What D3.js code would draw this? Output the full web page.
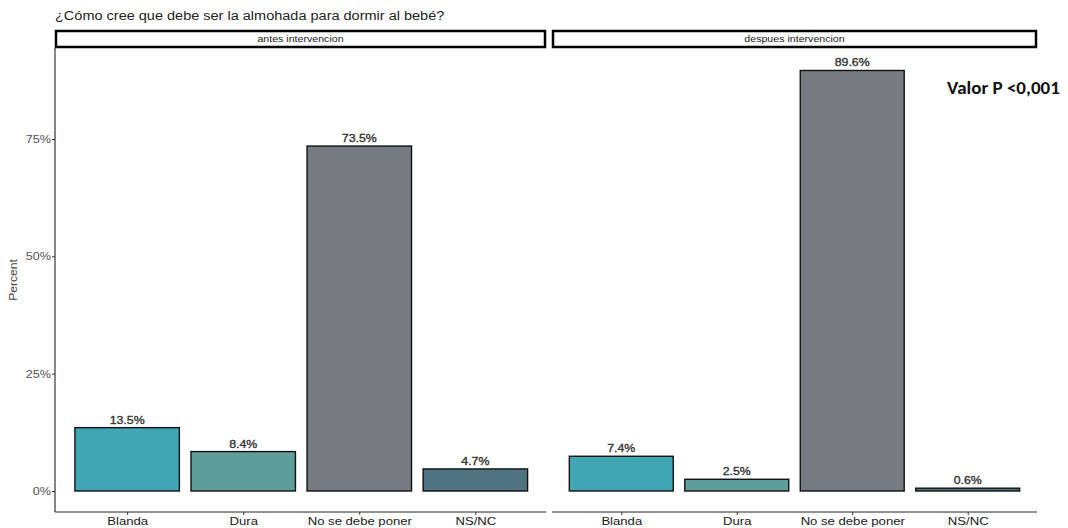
<!DOCTYPE html>
<html>
<head>
<meta charset="utf-8">
<script src="https://cdn.jsdelivr.net/npm/d3@7"></script>
<style>
  html, body { margin: 0; padding: 0; background: #ffffff; }
  svg { display: block; }
</style>
</head>
<body>
<svg id="chart" width="1068" height="528"></svg>
<script>
// Responses to: ¿Cómo cree que debe ser la almohada para dormir al bebé?
const categories = ["Blanda", "Dura", "No se debe poner", "NS/NC"];
const panels = ["antes intervencion", "despues intervencion"];
const valuesAntes = [13.5, 8.4, 73.5, 4.7];
const valuesDespues = [7.4, 2.5, 89.6, 0.6];
const yTicks = [0, 25, 50, 75];
const barColors = ["#41a6b4", "#5e9e9a", "#757b81", "#4f7480"];

const seriesByPanel = [valuesAntes, valuesDespues];

const svg = d3.select("#chart");
const font = "'Liberation Sans', Arial, sans-serif";

// Widen glyphs horizontally by a factor (text keeps its anchor)
function widen(sel, factor) {
  sel.each(function () {
    const w = this.getComputedTextLength();
    d3.select(this).attr("textLength", w * factor).attr("lengthAdjust", "spacingAndGlyphs");
  });
  return sel;
}

// Panel geometry
const panelBoxes = [
  { x0: 55, x1: 546, s0: 57.5, s1: 545 },
  { x0: 552, x1: 1037, s0: 552, s1: 1037 }
];
const stripTop = 30, stripBottom = 48;
const axisY = 512;

// Shared y scale
const y = d3.scaleLinear().domain([0, 75]).range([491, 139]);

// Title
svg.append("text")
  .attr("x", 55).attr("y", 20)
  .attr("font-family", font).attr("font-size", 12.5)
  .attr("fill", "#222")
  .text("¿Cómo cree que debe ser la almohada para dormir al bebé?")
  .call(widen, 1.16);

panels.forEach((name, pi) => {
  const box = panelBoxes[pi];
  const values = seriesByPanel[pi];
  const g = svg.append("g");

  // Strip
  g.append("rect")
    .attr("x", box.x0 + 1).attr("y", stripTop + 1)
    .attr("width", box.x1 - box.x0 - 2).attr("height", stripBottom - stripTop - 2)
    .attr("fill", "#fff").attr("stroke", "#000").attr("stroke-width", 2.5);
  g.append("text")
    .attr("x", (box.x0 + box.x1) / 2).attr("y", (stripTop + stripBottom) / 2 + 3)
    .attr("text-anchor", "middle")
    .attr("font-family", font).attr("font-size", 9)
    .attr("fill", "#1a1a1a")
    .text(name)
    .call(widen, 1.18);

  // x point scale with 0.6-step expansion on each side
  const step = (box.s1 - box.s0) / (categories.length - 1 + 1.2);
  const x = d3.scalePoint().domain(categories)
    .range([box.s0 + 0.6 * step, box.s1 - 0.6 * step]);
  const bw = step * 0.9;

  // Bars
  g.selectAll("rect.bar").data(values).join("rect")
    .attr("class", "bar")
    .attr("x", (d, i) => x(categories[i]) - bw / 2)
    .attr("y", d => y(d))
    .attr("width", bw)
    .attr("height", d => y(0) - y(d))
    .attr("fill", (d, i) => barColors[i])
    .attr("stroke", "#111").attr("stroke-width", 1.4);

  // Value labels
  g.selectAll("text.val").data(values).join("text")
    .attr("class", "val")
    .attr("x", (d, i) => x(categories[i]))
    .attr("y", d => y(d) - 4)
    .attr("text-anchor", "middle")
    .attr("font-family", font).attr("font-size", 11)
    .attr("fill", "#333").attr("stroke", "#333").attr("stroke-width", 0.35)
    .text(d => d.toFixed(1) + "%")
    .call(widen, 1.12);

  // x axis
  const xAxis = d3.axisBottom(x).tickSize(3).tickSizeOuter(0);
  const xg = g.append("g").attr("transform", `translate(0,${axisY})`).call(xAxis);
  xg.select(".domain").attr("d", `M${box.x0},0H${box.x1}`).attr("stroke", "#222").attr("stroke-width", 1.1);
  xg.selectAll(".tick line").attr("stroke", "#333");
  xg.selectAll(".tick text")
    .attr("font-family", font).attr("font-size", 11.5)
    .attr("fill", "#1a1a1a").attr("dy", "0.72em").attr("y", 5)
    .call(widen, 1.14);

  // y axis only on first panel
  if (pi === 0) {
    const yAxis = d3.axisLeft(y).tickValues(yTicks).tickSize(3).tickFormat(d => d + "%").tickSizeOuter(0);
    const yg = g.append("g").attr("transform", `translate(${box.x0},0)`).call(yAxis);
    yg.select(".domain").attr("d", `M0,${stripBottom}V${axisY}`).attr("stroke", "#222").attr("stroke-width", 1.1);
    yg.selectAll(".tick line").attr("stroke", "#333");
    yg.selectAll(".tick text")
      .attr("font-family", font).attr("font-size", 10.5)
      .attr("fill", "#555").attr("x", -4)
      .call(widen, 1.2);
  }
});

// y axis title
svg.append("text")
  .attr("transform", "translate(17,280) rotate(-90)")
  .attr("text-anchor", "middle")
  .attr("font-family", font).attr("font-size", 11)
  .attr("fill", "#444")
  .text("Percent")
  .call(widen, 1.1);

// p-value annotation
svg.append("text")
  .attr("x", 947).attr("y", 94)
  .attr("font-family", "Carlito, 'Open Sans', 'Liberation Sans', sans-serif")
  .attr("font-size", 19).attr("font-weight", "bold")
  .attr("fill", "#111")
  .text("Valor P <0,001");
</script>
</body>
</html>
